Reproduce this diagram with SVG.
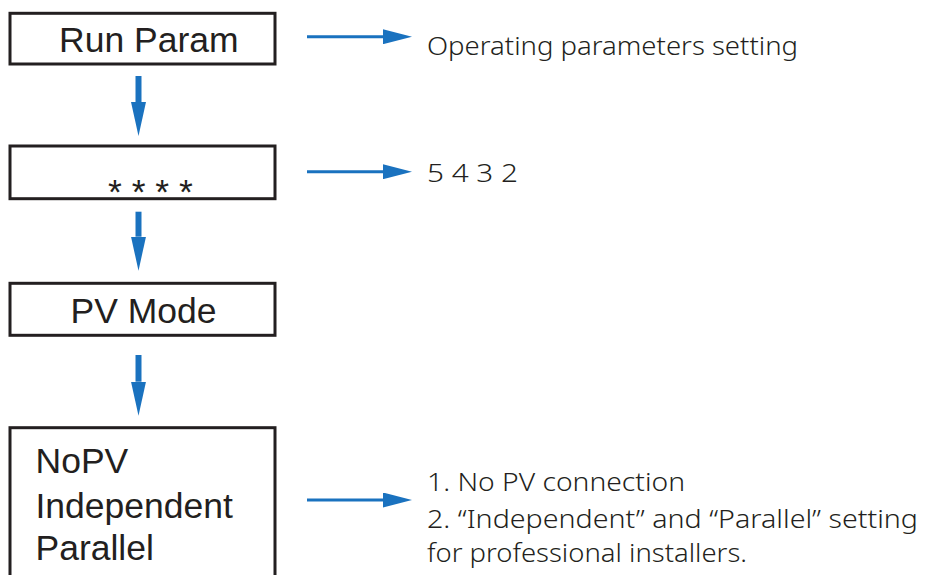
<svg xmlns="http://www.w3.org/2000/svg" width="926" height="575" viewBox="0 0 926 575">
<style>
.box{fill:#fff;stroke:#231f20;stroke-width:3}
.lbl{font-family:"Liberation Sans",Arial,sans-serif;font-size:35.5px;fill:#231f20}
.note{font-family:"Noto Sans","Liberation Sans",sans-serif;font-size:26px;font-weight:300;fill:#231f20}
.hline{stroke:#1a72bf;stroke-width:3;fill:none}
.vline{stroke:#1a72bf;stroke-width:6;fill:none}
</style>
<defs>
<marker id="hh" markerUnits="userSpaceOnUse" viewBox="0 0 29 15" markerWidth="29" markerHeight="15" refX="0" refY="7.5" orient="auto"><path d="M0,0 L29,7.5 L0,15 Z" fill="#1a72bf"/></marker>
<marker id="vh" markerUnits="userSpaceOnUse" viewBox="0 0 34 15" markerWidth="34" markerHeight="15" refX="0" refY="7.5" orient="auto"><path d="M0,0 L34,7.5 L0,15 Z" fill="#1a72bf"/></marker>
</defs>
<rect width="926" height="575" fill="#fff"/>
<g id="node-run-param">
<rect class="box" x="10" y="13.3" width="265" height="50.7"/>
<text class="lbl" x="59" y="52">Run Param</text>
</g>
<g id="node-password">
<rect class="box" x="10" y="146" width="265" height="52.7"/>
<text class="lbl" x="108" y="204">* * * *</text>
</g>
<g id="node-pv-mode">
<rect class="box" x="10" y="283.3" width="265" height="52"/>
<text class="lbl" x="70.5" y="323">PV Mode</text>
</g>
<g id="node-pv-options">
<rect class="box" x="10" y="427.7" width="265" height="200"/>
<text class="lbl" x="35.5" y="473">NoPV</text>
<text class="lbl" x="35.5" y="518">Independent</text>
<text class="lbl" x="35.5" y="560">Parallel</text>
</g>
<g id="note-1">
<text class="note" x="427" y="55" textLength="371" lengthAdjust="spacingAndGlyphs">Operating parameters setting</text>
</g>
<g id="note-2">
<text class="note" x="427" y="182" textLength="91" lengthAdjust="spacingAndGlyphs">5 4 3 2</text>
</g>
<g id="note-3">
<text class="note" x="427" y="491" textLength="258" lengthAdjust="spacingAndGlyphs">1. No PV connection</text>
<text class="note" x="427" y="528" textLength="491" lengthAdjust="spacingAndGlyphs">2. “Independent” and “Parallel” setting</text>
<text class="note" x="427" y="562" textLength="320" lengthAdjust="spacingAndGlyphs">for professional installers.</text>
</g>
<g id="connectors">
<line class="vline" x1="138.5" y1="76" x2="138.5" y2="102" marker-end="url(#vh)"/>
<line class="vline" x1="138.5" y1="211.7" x2="138.5" y2="236.7" marker-end="url(#vh)"/>
<line class="vline" x1="138.5" y1="355" x2="138.5" y2="381.7" marker-end="url(#vh)"/>
<line class="hline" x1="307" y1="36.7" x2="383" y2="36.7" marker-end="url(#hh)"/>
<line class="hline" x1="307" y1="171.7" x2="383" y2="171.7" marker-end="url(#hh)"/>
<line class="hline" x1="307" y1="500" x2="383" y2="500" marker-end="url(#hh)"/>
</g>
</svg>
